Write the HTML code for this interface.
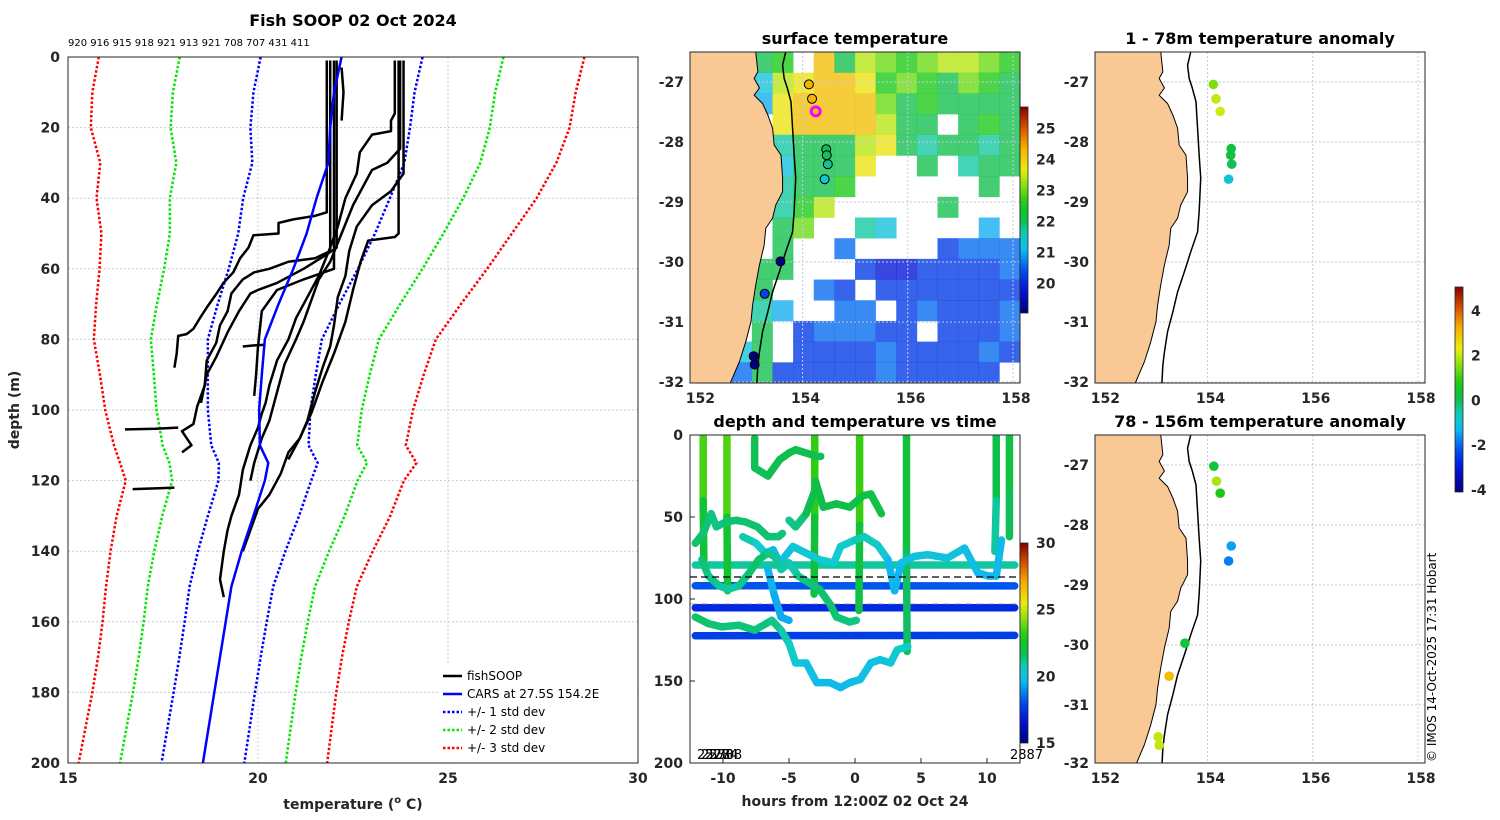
<!DOCTYPE html>
<html><head><meta charset="utf-8"><style>
html,body{margin:0;padding:0;background:#fff;}
svg{display:block;font-family:"DejaVu Sans","Liberation Sans",sans-serif;}
.tk{font-size:14px;font-weight:bold;fill:#262626;}
.ttl{font-size:16px;font-weight:bold;fill:#000;}
</style></head><body>
<svg id="fig" width="1500" height="820" viewBox="0 0 1500 820" xmlns="http://www.w3.org/2000/svg">
<defs>
<clipPath id="c1"><rect x="68" y="57" width="570" height="706"/></clipPath>
<clipPath id="c2"><rect x="690" y="52" width="330" height="331"/></clipPath>
<clipPath id="c3"><rect x="1095" y="52" width="330" height="331"/></clipPath>
<clipPath id="c4"><rect x="1095" y="435" width="330" height="328"/></clipPath>
<clipPath id="c5"><rect x="690" y="435" width="330" height="328"/></clipPath>
<linearGradient id="cmap" x1="0" y1="1" x2="0" y2="0"></linearGradient>
</defs>
<text class="ttl" x="353" y="26" text-anchor="middle">Fish SOOP 02 Oct 2024</text>
<text x="68" y="46" font-size="10" fill="#000">920 916 915 918 921 913 921 708 707 431 411</text>
<text class="tk" x="353" y="809" text-anchor="middle" font-size="15">temperature (<tspan font-size="10" dy="-6">o</tspan><tspan dy="6"> C)</tspan></text>
<text class="tk" transform="translate(19,410) rotate(-90)" text-anchor="middle" font-size="15">depth (m)</text>
<text class="ttl" x="855" y="44" text-anchor="middle">surface temperature</text>
<text class="ttl" x="1260" y="44" text-anchor="middle">1 - 78m temperature anomaly</text>
<text class="ttl" x="1260" y="427" text-anchor="middle">78 - 156m temperature anomaly</text>
<text class="ttl" x="855" y="427" text-anchor="middle">depth and temperature vs time</text>
<text class="tk" x="855" y="806" text-anchor="middle" font-size="15">hours from 12:00Z 02 Oct 24</text>
<text transform="translate(1436,762) rotate(-90)" font-size="12" fill="#000">© IMOS 14-Oct-2025 17:31 Hobart</text>
<g id="layer"></g>
</svg>
<script>
// ---------- data ----------
const carsDepth=[0,10,20,30,40,50,60,70,80,90,100,110,115,120,130,140,150,160,170,180,190,200];
const carsTemp=[22.2,22.0,21.9,21.85,21.54,21.28,20.93,20.54,20.18,20.1,20.03,20.05,20.27,20.18,19.88,19.57,19.3,19.15,19.0,18.85,18.7,18.55];
const stdDev=[2.13,2.12,2.1,2.0,1.93,1.8,1.7,1.6,1.5,1.42,1.35,1.28,1.3,1.22,1.2,1.15,1.1,1.08,1.07,1.07,1.08,1.09];
const fishProfiles=[
[[21.81,1],[21.81,44],[21.5,45],[20.93,46],[20.54,47],[20.54,50],[19.88,50.5],[19.75,54],[19.53,57],[19.35,61],[19.09,64],[18.91,67],[18.65,71],[18.47,74],[18.3,77],[18.12,78.5],[17.9,79],[17.86,84],[17.8,88]],
[[21.9,1],[21.9,55],[21.5,57],[20.8,58],[20.3,60],[19.9,61],[19.6,63],[19.3,67],[19.2,72],[19.0,76],[18.9,81],[18.65,86],[18.6,93],[18.4,99],[18.3,104],[18.0,106],[18.25,110],[18.0,112]],
[[22.07,1],[22.07,54],[21.8,56],[21.2,60],[20.5,64],[20.0,66],[19.8,67],[19.5,72],[19.2,78],[18.9,85],[18.65,90],[18.5,98]],
[[22.2,3],[22.25,10],[22.2,18]],
[[23.6,1],[23.6,16],[23.5,18],[23.5,21],[23.0,22],[22.68,27],[22.6,33],[22.3,40],[22.1,48],[21.9,54],[21.6,62],[21.3,68],[21.0,74],[20.8,80],[20.5,86],[20.3,93],[20.2,98],[20.1,101],[20.0,105],[19.8,110],[19.6,117],[19.5,124],[19.3,130],[19.2,134],[19.1,140],[19.0,148],[19.1,153]],
[[23.74,1],[23.74,26],[23.4,30],[23.0,32],[22.8,36],[22.5,42],[22.2,50],[21.9,58],[21.6,63],[21.4,69],[21.2,75],[21.0,80],[20.7,87],[20.5,95],[20.3,103],[20.1,108],[19.9,115],[19.8,120]],
[[23.83,1],[23.83,33],[23.5,38],[23.0,42],[22.6,48],[22.4,55],[22.3,62],[22.1,68],[22.0,76],[21.9,82],[21.7,88],[21.5,95],[21.3,103],[21.1,108],[20.8,112],[20.6,118],[20.3,124],[20.0,128],[19.8,134],[19.6,140]],
[[23.7,1],[23.7,50],[23.6,51],[22.9,52],[22.7,58],[22.5,66],[22.3,75],[22.0,84],[21.7,92],[21.4,101],[21.1,108],[20.8,114]],
[[22.0,1],[22.0,60],[21.2,63],[20.5,66],[20.1,72],[20.0,82],[19.95,90],[19.9,96]],
[[16.5,105.5],[17.3,105.3],[17.9,105]],
[[16.7,122.4],[17.3,122.2],[17.8,122]],
[[19.6,82],[19.9,81.7],[20.2,81.5]]
];
// SST grid: 16 rows (north->south) x 16 cols (west->east); null = no data
const sstGrid=[
[null,null,null,22.1,22.6,null,24.2,22.1,23.4,23.0,22.6,23.0,23.4,23.4,23.0,22.6],
[null,null,null,21.3,23.4,23.8,24.2,24.2,23.8,22.6,23.0,22.6,22.1,23.0,22.6,22.1],
[null,null,null,21.0,23.8,24.2,24.2,24.2,24.2,23.0,22.1,22.6,22.1,22.1,22.1,22.1],
[null,null,null,null,23.8,24.2,24.2,24.2,24.2,23.4,22.1,22.1,null,22.1,22.6,22.1],
[null,null,null,null,21.7,22.1,22.1,22.1,23.4,23.8,22.1,21.7,22.1,22.1,21.7,22.1],
[null,null,null,null,21.3,22.1,22.1,22.1,23.8,null,null,22.1,null,21.7,22.1,22.1],
[null,null,null,null,21.7,22.1,22.1,22.6,null,null,null,null,null,null,22.1,null],
[null,null,null,21.3,21.7,22.6,23.4,null,null,null,null,null,22.1,null,null,null],
[null,null,null,null,22.1,23.0,null,null,21.7,21.3,null,null,null,null,21.0,null],
[null,null,null,null,22.1,null,null,20.6,null,null,null,null,20.2,20.6,20.6,20.6],
[null,null,null,22.1,22.1,null,null,null,20.2,19.8,19.8,20.2,20.2,20.2,20.2,20.6],
[null,null,null,22.1,null,null,20.6,20.2,null,20.2,20.2,20.2,20.2,20.2,20.2,20.2],
[null,null,null,21.7,21.0,null,null,20.6,20.6,null,20.2,20.6,20.2,20.2,20.2,20.6],
[null,null,null,22.1,null,20.2,20.6,20.6,20.6,20.2,20.2,null,20.2,20.2,20.2,20.6],
[null,null,21.3,22.1,null,20.2,20.2,20.2,20.2,20.6,20.2,20.2,20.2,20.2,20.6,20.2],
[null,20.2,20.6,22.1,20.2,20.2,20.2,20.2,20.2,20.6,20.2,20.2,20.2,20.2,20.2,null]
];
const sstStnLon=[154.12,154.18,154.25,154.45,154.46,154.48,154.42,153.58,153.28,153.07,153.09];
const sstStnLat=[-27.04,-27.28,-27.49,-28.12,-28.22,-28.37,-28.62,-29.99,-30.53,-31.57,-31.71];
const sstStnVal=[24.3,24.3,24.0,22.0,22.0,21.8,21.4,17.0,20.3,17.0,17.0];
const anomTopLon=[154.11,154.16,154.24,154.45,154.44,154.46,154.40];
const anomTopLat=[-27.04,-27.28,-27.49,-28.11,-28.22,-28.37,-28.62];
const anomTopVal=[1.5,2.0,2.1,0.3,0.2,0.0,-0.9];
const anomBotLon=[154.12,154.17,154.24,154.45,154.40,153.57,153.27,153.06,153.08];
const anomBotLat=[-27.02,-27.27,-27.47,-28.35,-28.60,-29.97,-30.52,-31.53,-31.67];
const anomBotVal=[0.3,1.8,0.8,-1.5,-1.8,0.3,3.0,2.0,2.0];
const coastLon=[153.11,153.15,153.08,153.18,153.08,153.24,153.34,153.43,153.46,153.59,153.62,153.62,153.49,153.43,153.30,153.27,153.18,153.11,153.05,153.02,152.92,152.80,152.61];
const coastLat=[-26.5,-26.83,-26.94,-27.1,-27.22,-27.36,-27.55,-27.77,-28.05,-28.22,-28.6,-28.83,-29.05,-29.27,-29.44,-29.72,-30.05,-30.38,-30.72,-30.99,-31.33,-31.66,-32.05];
const isoLon=[153.68,153.62,153.65,153.71,153.78,153.81,153.84,153.87,153.84,153.81,153.68,153.56,153.43,153.34,153.24,153.18,153.15,153.13];
const isoLat=[-26.5,-26.72,-26.94,-27.1,-27.33,-27.77,-28.22,-28.6,-29.16,-29.5,-29.83,-30.16,-30.5,-30.83,-31.16,-31.5,-31.72,-32.05];
// depth-time tracks: hours, depth, temperature
const trackHours=[
[-12.1,12.1],[-12.1,12.1],[-12.1,12.1],[-12.1,12.1],
[-11.5,-11.5,-11.45],[-9.7,-9.7,-9.65],[-3.05,-3.05,-3.1],[0.35,0.35,0.3],[3.9,3.9,3.95],[10.7,10.7,10.6],[11.7,11.7,11.7],
[-7.6,-7.6,-6.6,-5.7,-5.0,-4.5,-2.9,-2.6],
[-5.0,-4.5,-3.7,-3.05,-3.0,-2.4,-1.4,-0.4,0.6,1.2,2.0],
[-12.1,-11.5,-10.9,-10.5,-9.8,-9.0,-8.3,-7.4,-6.6,-5.8,-5.5],
[-8.5,-7.5,-6.8,-6.2,-5.7,-4.7,-3.7,-2.7,-1.6,-1.1,0.0,0.7,1.7,2.5,3.0,3.5,4.5,5.5,7.0,8.3,9.3,10.1,10.7,11.1],
[-11.6,-11.1,-10.3,-9.6,-8.8,-8.0,-7.3,-6.6,-6.1,-5.6,-5.0,-4.3,-3.5,-2.7,-1.9,-1.4,-0.4,0.1],
[-12.1,-11.1,-10.1,-8.8,-7.6,-6.3,-5.6,-5.0,-4.5,-3.7,-2.9,-1.9,-1.1,-0.4,0.4,1.2,1.9,2.7,3.2,4.0],
[-6.6,-6.1,-5.6,-5.0]
];
const trackDepth=[
[79.3,79.3],[91.9,92],[105.3,105.3],[122.4,122.2],
[0,40,76],[0,50,95],[0,50,97],[0,55,107],[0,70,132],[0,40,71],[0,35,62],
[2,20,25,15,11,9,13,13],
[52,56,48,34,28,44,42,44,37,36,48],
[66,60,48,56,53,52,53,56,62,62,60],
[62,66,72,70,78,68,72,76,78,68,64,62,67,76,95,78,74,73,75,69,84,86,86,64],
[76,86,92,94,92,84,76,72,74,82,78,86,90,94,103,111,114,113],
[111,115,117,116,119,113,119,127,139,139,151,151,154,151,149,139,137,139,131,129],
[82,98,111,113]
];
const trackTemp=[
[21.0,21.0],[18.2,18.2],[17.2,17.2],[17.7,17.7],
[24.2,22.8,21.6],[24.2,23.0,21.6],[24.0,22.5,21.8],[24.2,22.5,21.6],[22.3,22.0,21.2],[22.0,21.8,20.2],[22.3,21.8,21.5],
[21.8,21.6,21.7,21.8,21.9,21.8,21.7,21.6],
[21.3,21.0,21.6,22.0,22.0,21.8,21.9,21.8,21.9,22.0,21.9],
[21.6,21.5,21.3,21.2,21.4,21.5,21.4,21.5,21.4,21.4,21.3],
[21.0,20.7,20.2,19.8,19.6,20.4,20.2,20.4,20.5,20.4,20.8,20.9,20.6,20.2,19.2,19.9,20.0,20.1,20.2,20.1,19.7,19.6,19.6,19.9],
[21.4,21.3,21.1,20.9,21.0,21.4,21.6,21.3,21.0,21.2,20.6,21.1,21.3,21.4,21.5,21.4,21.3,21.2],
[21.6,21.5,21.3,21.4,21.3,21.4,21.0,20.8,20.5,20.1,19.8,19.7,19.7,19.8,19.9,20.0,20.1,20.2,20.4,20.8],
[19.6,19.4,19.3,19.4]
];
const tempXTicks=[15,20,25,30];
const depthYTicks=[0,20,40,60,80,100,120,140,160,180,200];
const lonTicks=[152,154,156,158];
const latTicks=[-27,-28,-29,-30,-31,-32];
const hourTicks=[-10,-5,0,5,10];
const tdDepthTicks=[0,50,100,150,200];
const sstCbTicks=[20,21,22,23,24,25];
const anomCbTicks=[4,2,0,-2,-4];
const tdCbTicks=[15,20,25,30];

// ---------- helpers ----------
const NS='http://www.w3.org/2000/svg';
const layer=document.getElementById('layer');
function mk(tag,attrs,parent){const e=document.createElementNS(NS,tag);for(const k in attrs)e.setAttribute(k,attrs[k]);(parent||layer).appendChild(e);return e;}
const stops=[[0,[0,0,128]],[0.12,[0,20,220]],[0.22,[0,90,240]],[0.3,[16,180,240]],[0.37,[16,205,205]],[0.45,[16,190,80]],[0.53,[20,200,20]],[0.62,[140,225,16]],[0.7,[235,235,16]],[0.8,[245,175,0]],[0.9,[215,80,0]],[1,[128,0,0]]];
function cmap(t){t=Math.max(0,Math.min(1,t));for(let i=1;i<stops.length;i++){if(t<=stops[i][0]){const a=stops[i-1],b=stops[i];const f=(t-a[0])/(b[0]-a[0]);const c=a[1].map((v,j)=>Math.round(v+(b[1][j]-v)*f));return 'rgb('+c.join(',')+')';}}return 'rgb(128,0,0)';}
const grad=document.getElementById('cmap');
for(let i=0;i<=20;i++){const s=document.createElementNS(NS,'stop');s.setAttribute('offset',(i/20));s.setAttribute('stop-color',cmap(i/20));grad.appendChild(s);}

// ---------- panel 1: profiles ----------
const px=t=>68+(t-15)*38, py=d=>57+d*3.53;
const g1=mk('g',{'clip-path':'url(#c1)'});


tempXTicks.forEach(v=>{const l=mk('line',{x1:px(v),x2:px(v),y1:57,y2:763,stroke:'#c4cbe0','stroke-dasharray':'2,2','stroke-width':1},g1);

});
depthYTicks.forEach(v=>{const l=mk('line',{x1:68,x2:638,y1:py(v),y2:py(v),stroke:'#c4cbe0','stroke-dasharray':'2,2','stroke-width':1},g1);

});
const bands=[[-3,'#ff0000','std-minus-3'],[3,'#ff0000','std-plus-3'],[-2,'#00e600','std-minus-2'],[2,'#00e600','std-plus-2'],[-1,'#0000ff','std-minus-1'],[1,'#0000ff','std-plus-1']];
bands.forEach(b=>{const pts=carsDepth.map((d,i)=>px(carsTemp[i]+b[0]*stdDev[i])+','+py(d)).join(' ');
const p=mk('polyline',{points:pts,fill:'none',stroke:b[1],'stroke-width':2.5,'stroke-dasharray':'2.5,2'},g1);

});
fishProfiles.forEach(pr=>{const p=mk('polyline',{points:pr.map(q=>px(q[0])+','+py(q[1])).join(' '),fill:'none',stroke:'#000','stroke-width':2.5,'stroke-linejoin':'round'},g1);

});
const cars=mk('polyline',{points:carsDepth.map((d,i)=>px(carsTemp[i])+','+py(d)).join(' '),fill:'none',stroke:'#0000ff','stroke-width':2.5},g1);


const ax1=mk('rect',{x:68,y:57,width:570,height:706,fill:'none',stroke:'#262626','stroke-width':1});


tempXTicks.forEach(v=>{const t=mk('text',{x:px(v),y:783,'text-anchor':'middle',class:'tk','font-size':15});t.textContent=v;

});
depthYTicks.forEach(v=>{const t=mk('text',{x:60,y:py(v)+5,'text-anchor':'end',class:'tk','font-size':15});t.textContent=v;

});
// legend
const lg=mk('g',{});


mk('rect',{x:438,y:664,width:199,height:98,fill:'#fff',stroke:'none'},lg);
const legItems=[['fishSOOP','#000',''],['CARS at 27.5S 154.2E','#0000ff',''],['+/- 1 std dev','#0000ff','2.5,2'],['+/- 2 std dev','#00e600','2.5,2'],['+/- 3 std dev','#ff0000','2.5,2']];
legItems.forEach((it,i)=>{const y=676+i*18;const e=mk('g',{},lg);


mk('line',{x1:443,x2:462,y1:y,y2:y,stroke:it[1],'stroke-width':2.5,'stroke-dasharray':it[2]||'none'},e);
const t=mk('text',{x:467,y:y+4,'font-size':12,fill:'#000'},e);t.textContent=it[0];});

// ---------- map helpers ----------
const mx=(L,lon)=>L+(lon-151.86)*52.6, my=(T,lat)=>T+(-26.5-lat)*60;
function mapFrame(L,T,H,clip,name){
 const g=mk('g',{'clip-path':'url(#'+clip+')'});
 
 
 return g;}
function mapOverlay(L,T,H,g,name){
 lonTicks.forEach(v=>{mk('line',{x1:mx(L,v),x2:mx(L,v),y1:T,y2:T+H,stroke:'#c4cbe0','stroke-dasharray':'2,2'},g);});
 latTicks.forEach(v=>{mk('line',{x1:L,x2:L+330,y1:my(T,v),y2:my(T,v),stroke:'#c4cbe0','stroke-dasharray':'2,2'},g);});
 const land=mk('polygon',{points:coastLon.map((lo,i)=>mx(L,lo)+','+my(T,coastLat[i])).join(' ')+' '+(L-5)+','+(T+H+5)+' '+(L-5)+','+(T-5),fill:'#f9c995',stroke:'#000','stroke-width':1},g);
 
 
 const iso=mk('polyline',{points:isoLon.map((lo,i)=>mx(L,lo)+','+my(T,isoLat[i])).join(' '),fill:'none',stroke:'#000','stroke-width':1.5},g);
 
 
}
function mapAxes(L,T,H,name){
 const b=mk('rect',{x:L,y:T,width:330,height:H,fill:'none',stroke:'#262626'});
 
 
 lonTicks.forEach(v=>{const t=mk('text',{x:mx(L,v)+3,y:T+H+20,'text-anchor':'middle',class:'tk','font-size':15});t.textContent=v;
 
 });
 latTicks.forEach(v=>{const yy=my(T,v);if(yy>T+H+3)return;const t=mk('text',{x:L-6,y:Math.min(yy,T+H)+5,'text-anchor':'end',class:'tk','font-size':15});t.textContent=v;
 
 });
}
function colorbar(x,y1,y2,vmin,vmax,ticks,name){
 const r=mk('rect',{x:x,y:y1,width:8,height:y2-y1,fill:'url(#cmap)',stroke:'#262626','stroke-width':0.8});
 
 
 ticks.forEach(v=>{const yy=y2-(v-vmin)/(vmax-vmin)*(y2-y1);const t=mk('text',{x:x+16,y:yy+5,class:'tk','font-size':13});t.textContent=v;
 
 });
}

// ---------- panel 2: SST ----------
const sstMin=19.05,sstMax=25.7;
const g2=mapFrame(690,52,331,'c2','sst-map');
const cw=330/16,ch=331/16;
sstGrid.forEach((row,r)=>row.forEach((v,c)=>{if(v===null)return;const cell=mk('rect',{x:690+c*cw,y:52+r*ch,width:cw+0.3,height:ch+0.3,fill:cmap((v-sstMin)/(sstMax-sstMin)),'fill-opacity':0.78},g2);

}));
mapOverlay(690,52,331,g2,'sst');
sstStnLon.forEach((lo,i)=>{const c=mk('circle',{cx:mx(690,lo),cy:my(52,sstStnLat[i]),r:4.5,fill:cmap((sstStnVal[i]-sstMin)/(sstMax-sstMin)),stroke:i===2?'#ff00ff':'#000','stroke-width':i===2?3:1},g2);

});
mapAxes(690,52,331,'sst-map');
colorbar(1020,107,313,sstMin,sstMax,sstCbTicks,'sst-colorbar');

// ---------- panels 3/4: anomalies ----------
const aMin=-4.1,aMax=5.07;
const g3=mapFrame(1095,52,331,'c3','anomaly-top-map');
mapOverlay(1095,52,331,g3,'anom-top');
anomTopLon.forEach((lo,i)=>{const c=mk('circle',{cx:mx(1095,lo),cy:my(52,anomTopLat[i]),r:4.8,fill:cmap((anomTopVal[i]-aMin)/(aMax-aMin))},g3);

});
mapAxes(1095,52,331,'anomaly-top-map');
const g4=mapFrame(1095,435,328,'c4','anomaly-bottom-map');
mapOverlay(1095,435,328,g4,'anom-bot');
anomBotLon.forEach((lo,i)=>{const c=mk('circle',{cx:mx(1095,lo),cy:my(435,anomBotLat[i]),r:4.8,fill:cmap((anomBotVal[i]-aMin)/(aMax-aMin))},g4);

});
mapAxes(1095,435,328,'anomaly-bottom-map');
colorbar(1455,287,492,aMin,aMax,anomCbTicks,'anomaly-colorbar');

// ---------- panel 5: depth vs time ----------
const hx=h=>855+h*13.2, hy=d=>435+d*1.64;
const tMin=15,tMax=30;
const g5=mk('g',{'clip-path':'url(#c5)'});


trackHours.forEach((hs,k)=>{const tg=mk('g',{},g5);


for(let i=0;i<hs.length-1;i++){mk('line',{x1:hx(hs[i]),y1:hy(trackDepth[k][i]),x2:hx(hs[i+1]),y2:hy(trackDepth[k][i+1]),stroke:cmap(((trackTemp[k][i]+trackTemp[k][i+1])/2-tMin)/(tMax-tMin)),'stroke-width':7.5,'stroke-linecap':'round','stroke-linejoin':'round'},tg);}});
const dl=mk('line',{x1:690,x2:1020,y1:hy(86.6),y2:hy(86.6),stroke:'#000','stroke-dasharray':'7,4','stroke-width':1.2},g5);


const dl2=mk('line',{x1:690,x2:1020,y1:hy(103),y2:hy(103),stroke:'#888','stroke-dasharray':'7,4','stroke-width':1.2,opacity:0.6},g5);


const ax5=mk('rect',{x:690,y:435,width:330,height:328,fill:'none',stroke:'#262626'});


hourTicks.forEach(v=>{mk('line',{x1:hx(v),x2:hx(v),y1:763,y2:758,stroke:'#262626'});const t=mk('text',{x:hx(v),y:783,'text-anchor':'middle',class:'tk','font-size':15});t.textContent=v;

});
tdDepthTicks.forEach(v=>{mk('line',{x1:690,x2:695,y1:hy(v),y2:hy(v),stroke:'#262626'});const t=mk('text',{x:683,y:Math.min(hy(v),763)+5,'text-anchor':'end',class:'tk','font-size':15});t.textContent=v;

});
['2528','2530','2774','2738'].forEach((s,i)=>{const t=mk('text',{x:697+i*4,y:759,'font-size':13,fill:'#000'});t.textContent=s;

});
const t87=mk('text',{x:1010,y:759,'font-size':13,fill:'#000'});t87.textContent='2887';


colorbar(1020,543,743,tMin,tMax,tdCbTicks,'temperature-colorbar');
</script>
</body></html>
